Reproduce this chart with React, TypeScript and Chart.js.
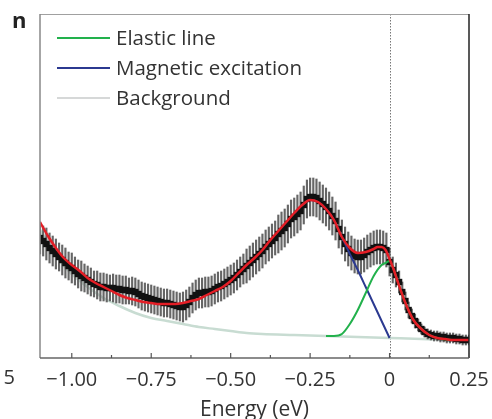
import React, { useEffect, useRef } from 'react';
import { Chart, registerables } from 'chart.js';

Chart.register(...registerables);

// Measured spectrum (energy in eV, intensity in arbitrary units)
const energy = [
  -1.10, -1.09, -1.08, -1.07, -1.06, -1.05, -1.04, -1.03, -1.02, -1.01,
  -1.00, -0.99, -0.98, -0.97, -0.96, -0.95, -0.94, -0.93, -0.92, -0.91,
  -0.90, -0.89, -0.88, -0.87, -0.86, -0.85, -0.84, -0.83, -0.82, -0.81,
  -0.80, -0.79, -0.78, -0.77, -0.76, -0.75, -0.74, -0.73, -0.72, -0.71,
  -0.70, -0.69, -0.68, -0.67, -0.66, -0.65, -0.64, -0.63, -0.62, -0.61,
  -0.60, -0.59, -0.58, -0.57, -0.56, -0.55, -0.54, -0.53, -0.52, -0.51,
  -0.50, -0.49, -0.48, -0.47, -0.46, -0.45, -0.44, -0.43, -0.42, -0.41,
  -0.40, -0.39, -0.38, -0.37, -0.36, -0.35, -0.34, -0.33, -0.32, -0.31,
  -0.30, -0.29, -0.28, -0.27, -0.26, -0.25, -0.24, -0.23, -0.22, -0.21,
  -0.20, -0.19, -0.18, -0.17, -0.16, -0.15, -0.14, -0.13, -0.12, -0.11,
  -0.10, -0.09, -0.08, -0.07, -0.06, -0.05, -0.04, -0.03, -0.02, -0.01,
  0.00, 0.01, 0.02, 0.03, 0.04, 0.05, 0.06, 0.07, 0.08, 0.09,
  0.10, 0.11, 0.12, 0.13, 0.14, 0.15, 0.16, 0.17, 0.18, 0.19,
  0.20, 0.21, 0.22, 0.23, 0.24, 0.25,
];
const intensity = [
  120, 117, 114, 110, 107, 104, 101, 98, 95, 92,
  90, 87, 84, 82, 80, 78, 76, 74, 73, 71,
  71, 70, 70, 70, 69, 69, 68, 68, 67, 67,
  66, 64, 62, 61, 60, 59, 58, 57, 56, 55,
  55, 54, 53, 52, 51, 51, 53, 56, 60, 63,
  65, 65, 66, 66, 67, 69, 71, 72, 74, 76,
  78, 80, 83, 86, 89, 92, 95, 98, 101, 104,
  107, 111, 114, 117, 120, 124, 127, 130, 134, 139,
  141, 144, 147, 153, 159, 161, 161, 160, 157, 154,
  151, 147, 142, 137, 129, 121, 114, 109, 105, 102,
  101, 101, 103, 106, 108, 110, 111, 111, 110, 108,
  96, 88, 83, 76, 66, 57, 48, 42, 37, 33,
  29, 26, 24, 23, 22, 22, 21, 21, 20, 20,
  20, 19, 19, 18, 18, 18,
];
const errors = [
  16, 15, 16, 15, 15, 15, 14, 15, 15, 14,
  15, 14, 14, 15, 14, 14, 14, 13, 14, 14,
  14, 14, 13, 14, 14, 14, 14, 14, 13, 14,
  14, 14, 14, 14, 14, 14, 14, 14, 14, 14,
  14, 14, 14, 14, 14, 15, 15, 15, 15, 15,
  15, 15, 15, 15, 15, 15, 15, 15, 15, 15,
  15, 15, 15, 15, 15, 17, 17, 17, 17, 17,
  17, 17, 17, 17, 17, 19, 19, 19, 19, 19,
  19, 19, 19, 19, 19, 19, 19, 19, 19, 19,
  19, 19, 19, 19, 19, 17, 17, 17, 17, 17,
  17, 17, 17, 17, 17, 17, 17, 17, 17, 17,
  14, 13, 12, 11, 10, 9, 8, 7, 7, 6,
  5, 5, 5, 5, 5, 5, 5, 5, 5, 5,
  5, 5, 5, 5, 5, 5,
];

// Total fit
const fitEnergy = [
  -1.1, -1.075, -1.05, -1.025, -1.0, -0.975, -0.95, -0.925, -0.9, -0.875,
  -0.85, -0.825, -0.8, -0.775, -0.75, -0.725, -0.7, -0.675, -0.65, -0.625,
  -0.6, -0.575, -0.55, -0.525, -0.5, -0.475, -0.45, -0.425, -0.4, -0.375,
  -0.35, -0.325, -0.3, -0.275, -0.25, -0.225, -0.2, -0.175, -0.15, -0.125,
  -0.1, -0.075, -0.05, -0.0375, -0.025, -0.0125, 0.0, 0.0125, 0.025, 0.05,
  0.075, 0.1, 0.125, 0.15, 0.175, 0.2, 0.225, 0.25,
];
const fitValues = [
  136, 122, 110, 100, 93, 87, 80, 75, 71, 67,
  63, 60, 58, 56, 55, 54, 54, 54, 55, 57,
  59, 63, 67, 71, 77, 85, 93, 100, 108, 118,
  127, 136, 145, 153, 158, 156, 149, 138, 121, 110,
  105, 106, 109, 111, 111, 108, 99, 89, 77, 55,
  38, 29, 23, 20, 19, 18, 18, 18,
];

// Elastic line
const elasticEnergy = [-0.2, -0.175, -0.15, -0.125, -0.1, -0.075, -0.05, -0.025, -0.0125, 0.0, 0.0125, 0.025, 0.05, 0.075, 0.1, 0.125, 0.15, 0.2, 0.25];
const elasticValues = [22, 22, 24, 34, 48, 65, 82, 93, 95, 97, 89, 77, 55, 38, 29, 23, 20, 18, 18];

// Magnetic excitation
const magneticEnergy = [-0.3, -0.275, -0.25, -0.225, -0.2, -0.175, -0.15, -0.125, -0.1, -0.075, -0.05, -0.025, 0.0];
const magneticValues = [145, 153, 158, 156, 149, 138, 121, 104, 88, 71, 54, 37, 20];

// Background
const backgroundEnergy = [-1.1, -1.05, -1.0, -0.95, -0.9, -0.85, -0.8, -0.75, -0.7, -0.65, -0.6, -0.55, -0.5, -0.45, -0.4, -0.3, -0.2, -0.1, 0.0, 0.1, 0.25];
const backgroundValues = [128, 102, 84, 71, 60, 52, 45, 40, 37, 34, 31, 29, 27, 25, 24, 23, 22, 21, 20, 19, 17];

const legendLabels = ['Elastic line', 'Magnetic excitation', 'Background'];
const legendColors = ['#22b14c', '#2b3990', '#d6d8d8'];
const xTitle = 'Energy (eV)';
const panelLabel = 'n';

const FONT = '"Open Sans", "Noto Sans", sans-serif';

const pairs = (xs: number[], ys: number[]) => xs.map((x, i) => ({ x, y: ys[i] }));

export default function App() {
  const ref = useRef<HTMLCanvasElement>(null);

  useEffect(() => {
    const deco = {
      id: 'deco',
      beforeDatasetsDraw(chart: any) {
        const { ctx, chartArea, scales } = chart;
        const x0 = scales.x.getPixelForValue(0);
        ctx.save();
        ctx.strokeStyle = '#777';
        ctx.lineWidth = 1;
        ctx.setLineDash([1.5, 1.5]);
        ctx.beginPath();
        ctx.moveTo(Math.round(x0) + 0.5, chartArea.top);
        ctx.lineTo(Math.round(x0) + 0.5, chartArea.bottom);
        ctx.stroke();
        ctx.restore();
      },
      afterDraw(chart: any) {
        const { ctx, chartArea, scales } = chart;
        const { left, right, top, bottom } = chartArea;
        ctx.save();
        // frame
        ctx.lineWidth = 1;
        ctx.strokeStyle = '#a0a0a0';
        ctx.beginPath(); ctx.moveTo(left, top + 0.5); ctx.lineTo(right, top + 0.5); ctx.stroke();
        ctx.lineWidth = 1.5;
        ctx.strokeStyle = '#888';
        ctx.beginPath(); ctx.moveTo(left, top); ctx.lineTo(left, bottom); ctx.stroke();
        ctx.strokeStyle = '#222';
        ctx.beginPath(); ctx.moveTo(right, top); ctx.lineTo(right, bottom); ctx.stroke();
        ctx.strokeStyle = '#666';
        ctx.beginPath(); ctx.moveTo(left, bottom); ctx.lineTo(right, bottom); ctx.stroke();
        // inward ticks
        ctx.lineWidth = 1.2;
        ctx.strokeStyle = '#555';
        scales.x.ticks.forEach((t: any) => {
          const px = scales.x.getPixelForValue(t.value);
          const major = Math.abs(t.value / 0.25 - Math.round(t.value / 0.25)) < 1e-6;
          const len = major ? 5 : 3;
          ctx.beginPath(); ctx.moveTo(px, bottom); ctx.lineTo(px, bottom - len); ctx.stroke();
        });
        // legend
        ctx.font = `20.5px ${FONT}`;
        ctx.textBaseline = 'middle';
        ctx.textAlign = 'left';
        legendLabels.forEach((lab, i) => {
          const y = 38 + i * 30;
          ctx.strokeStyle = legendColors[i];
          ctx.lineWidth = 2;
          ctx.beginPath(); ctx.moveTo(57, y); ctx.lineTo(110, y); ctx.stroke();
          ctx.fillStyle = '#333';
          ctx.fillText(lab, 116, y + 1);
        });
        // panel label
        ctx.font = `bold 22px ${FONT}`;
        ctx.textBaseline = 'alphabetic';
        ctx.fillStyle = '#222';
        ctx.fillText(panelLabel, 12, 28);
        // cut-off label from neighbouring panel
        ctx.font = `20px ${FONT}`;
        ctx.textAlign = 'right';
        ctx.textBaseline = 'middle';
        ctx.fillStyle = '#333';
        ctx.fillText('5', 15, 378);
        ctx.restore();
      },
    };

    const points = pairs(energy, intensity);
    const bars = energy.map((x, i) => ({ x, y: [intensity[i] - errors[i], intensity[i] + errors[i]] }));

    const chart = new Chart(ref.current as HTMLCanvasElement, {
      type: 'line',
      data: {
        datasets: [
          {
            label: 'Fit',
            data: pairs(fitEnergy, fitValues),
            borderColor: '#e41e26',
            borderWidth: 2.5,
            pointRadius: 0,
            cubicInterpolationMode: 'monotone',
          },
          {
            label: legendLabels[0],
            data: pairs(elasticEnergy, elasticValues),
            borderColor: legendColors[0],
            borderWidth: 2,
            pointRadius: 0,
            cubicInterpolationMode: 'monotone',
          },
          {
            label: legendLabels[1],
            data: pairs(magneticEnergy, magneticValues),
            borderColor: legendColors[1],
            borderWidth: 2,
            pointRadius: 0,
            cubicInterpolationMode: 'monotone',
          },
          {
            type: 'scatter',
            label: 'Data',
            data: points,
            pointStyle: 'rect',
            pointRadius: 4.5,
            backgroundColor: '#111',
            borderWidth: 0,
            showLine: false,
          } as any,
          {
            type: 'bar',
            label: 'Error',
            data: bars as any,
            backgroundColor: '#666',
            barThickness: 1.5,
            borderWidth: 0,
          } as any,
          {
            label: legendLabels[2],
            data: pairs(backgroundEnergy, backgroundValues),
            borderColor: '#c8dcd2',
            borderWidth: 2.5,
            pointRadius: 0,
            cubicInterpolationMode: 'monotone',
          },
        ],
      },
      options: {
        animation: false,
        responsive: true,
        maintainAspectRatio: false,
        layout: { padding: { left: 40, right: 23, top: 14, bottom: 0 } },
        plugins: { legend: { display: false }, tooltip: { enabled: false } },
        scales: {
          x: {
            type: 'linear',
            min: -1.1,
            max: 0.25,
            offset: false,
            grid: { display: false, drawTicks: false },
            border: { display: false },
            ticks: {
              stepSize: 0.125,
              includeBounds: false,
              autoSkip: false,
              maxRotation: 0,
              padding: 10,
              color: '#333',
              font: { family: FONT, size: 20 },
              callback: (v: any) => {
                const n = Number(v);
                if (Math.abs(n / 0.25 - Math.round(n / 0.25)) > 1e-6) return '';
                if (Math.abs(n) < 1e-9) return '0';
                return (n < 0 ? '\u2212' : '') + Math.abs(n).toFixed(2);
              },
            },
            title: {
              display: true,
              text: xTitle,
              color: '#333',
              font: { family: FONT, size: 21 },
              padding: { top: 0, bottom: -4 },
            },
            afterFit: (scale: any) => {
              scale.height = 61;
              scale.paddingLeft = 0;
              scale.paddingRight = 0;
            },
          },
          y: {
            type: 'linear',
            display: false,
            min: 0,
            max: 344,
          },
        },
      },
      plugins: [deco],
    } as any);

    return () => chart.destroy();
  }, []);

  return (
    <div style={{ position: 'absolute', left: 0, top: 0, width: 492, height: 419, background: '#fff' }}>
      <canvas ref={ref} />
    </div>
  );
}
